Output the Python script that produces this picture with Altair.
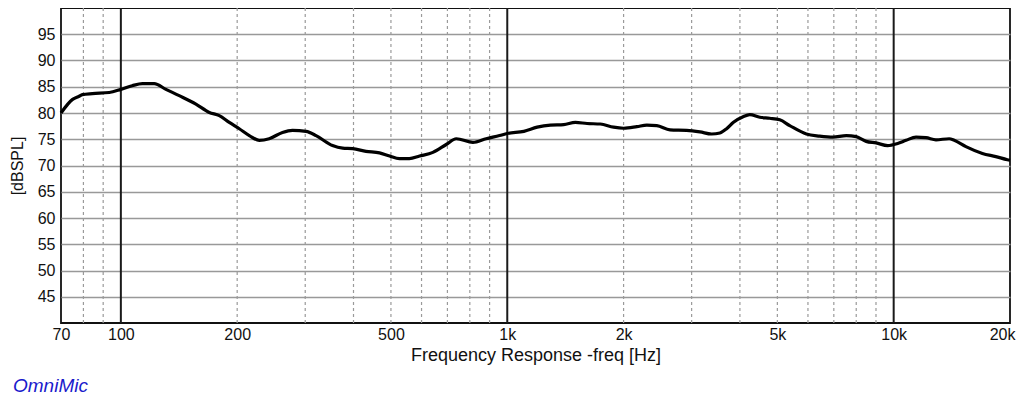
import altair as alt
import pandas as pd

freq = [70, 75, 78, 79.5, 84.4, 93.3, 100, 107, 113.7, 122, 130.8, 141.6, 156.4, 169.4,
        179.8, 190.8, 202.5, 215, 228, 242, 262, 278, 301.5, 320, 353, 375, 398, 431,
        467, 496, 526, 558, 593, 642, 695, 738, 815, 882, 955, 1000, 1104, 1195, 1293,
        1400, 1501, 1609, 1741, 1884, 2000, 2165, 2297, 2438, 2638, 2913, 3153, 3380,
        3551, 3695, 3842, 4077, 4243, 4503, 4779, 5072, 5382, 5943, 6432, 6961, 7540,
        7998, 8488, 9007, 9650, 10240, 10765, 11425, 12124, 12867, 13920, 14343, 15378,
        16967, 18379, 19690, 20000]
spl = [80.0, 82.6, 83.2, 83.5, 83.7, 83.9, 84.5, 85.2, 85.6, 85.6, 84.5, 83.3, 81.7, 80.1,
       79.5, 78.2, 77.0, 75.7, 74.8, 75.1, 76.3, 76.7, 76.5, 75.7, 73.8, 73.3, 73.2, 72.7,
       72.4, 71.8, 71.3, 71.3, 71.8, 72.5, 74.0, 75.1, 74.4, 75.1, 75.7, 76.1, 76.5, 77.3,
       77.7, 77.8, 78.2, 78.0, 77.9, 77.3, 77.1, 77.4, 77.7, 77.6, 76.8, 76.7, 76.4, 76.0,
       76.2, 77.0, 78.2, 79.3, 79.7, 79.2, 79.0, 78.7, 77.6, 76.0, 75.6, 75.4, 75.7,
       75.5, 74.6, 74.3, 73.8, 74.2, 74.8, 75.4, 75.3, 74.9, 75.1, 74.8, 73.6,
       72.3, 71.7, 71.1, 71.0]

major_lines = [100, 1000, 10000]
minor_lines = [80, 90, 200, 300, 400, 500, 600, 700, 800, 900,
               2000, 3000, 4000, 5000, 6000, 7000, 8000, 9000]
x_ticks = [70, 100, 200, 500, 1000, 2000, 5000, 10000, 20000]
y_ticks = [45, 50, 55, 60, 65, 70, 75, 80, 85, 90, 95]

FONT = "Liberation Sans"

curve_df = pd.DataFrame({"freq": freq, "spl": spl})
major_df = pd.DataFrame({"freq": major_lines})
minor_df = pd.DataFrame({"freq": minor_lines})

xscale = alt.Scale(type="log", domain=[70, 20000], nice=False)
yscale = alt.Scale(domain=[40, 100], nice=False, zero=False)

minor = alt.Chart(minor_df).mark_rule(
    color="#9a9a9a", strokeWidth=1.2, strokeDash=[3, 3]
).encode(x=alt.X("freq:Q", scale=xscale))

major = alt.Chart(major_df).mark_rule(
    color="#1a1a1a", strokeWidth=2
).encode(x=alt.X("freq:Q", scale=xscale))

line = alt.Chart(curve_df).mark_line(
    color="black", strokeWidth=3.2, interpolate="monotone"
).encode(
    x=alt.X("freq:Q", scale=xscale,
            axis=alt.Axis(values=x_ticks, title="Frequency Response -freq [Hz]",
                          labelExpr="datum.value >= 1000 ? (datum.value/1000) + 'k' : datum.value",
                          labelAlign={"condition": {"test": "datum.value >= 20000", "value": "right"},
                                      "value": "center"},
                          labelOffset={"condition": {"test": "datum.value >= 20000", "value": 5},
                                       "value": 0},
                          grid=False, ticks=False, domain=False, labelFlush=False,
                          labelOverlap=False, labelPadding=3, labelFontSize=16,
                          titleFontSize=18, titleFontWeight="normal", titlePadding=4,
                          labelFont=FONT, titleFont=FONT, labelColor="#111", titleColor="#111")),
    y=alt.Y("spl:Q", scale=yscale,
            axis=alt.Axis(values=y_ticks, title="[dBSPL]", grid=True, gridColor="#999999",
                          gridWidth=1.6, ticks=False, domain=False, labelPadding=6,
                          labelFontSize=16, titleFontSize=16, titleFontWeight="normal",
                          titlePadding=12, labelFont=FONT, titleFont=FONT,
                          labelColor="#111", titleColor="#111")),
)

brand = alt.Chart(pd.DataFrame({"t": ["OmniMic"]})).mark_text(
    font=FONT, fontSize=19, fontStyle="italic", color="#1a1acc",
    align="left", baseline="alphabetic"
).encode(text="t:N", x=alt.value(-48), y=alt.value(384))

chart = alt.layer(minor, major, line, brand).properties(
    width=949, height=315,
    autosize=alt.AutoSizeParams(type="none"),
    padding={"left": 53, "top": 0, "right": 6, "bottom": 75},
).configure_view(stroke="#111111", strokeWidth=1.8)

chart.save("out.html", embed_options={"renderer": "svg", "actions": False})
